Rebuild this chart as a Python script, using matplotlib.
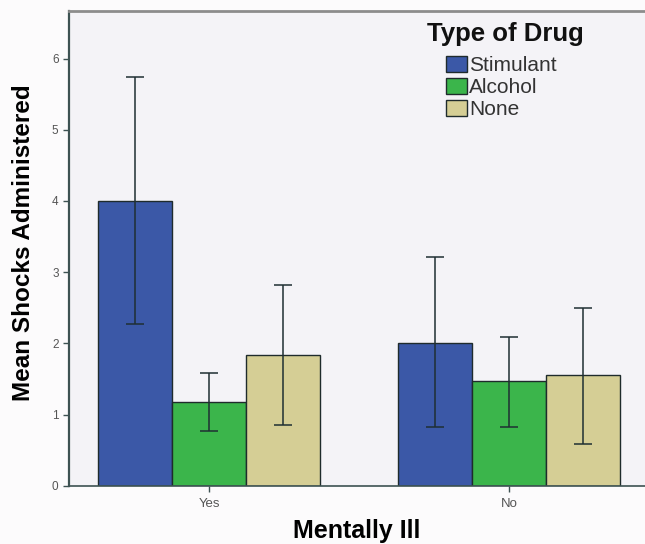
import numpy as np
import matplotlib.pyplot as plt

plt.rcParams['font.family'] = ['Liberation Sans', 'DejaVu Sans']

groups = ['Yes', 'No']
drugs = ['Stimulant', 'Alcohol', 'None']
means = {
    'Stimulant': [4.00, 2.01],
    'Alcohol': [1.18, 1.47],
    'None': [1.84, 1.55],
}
err_low = {
    'Stimulant': [2.27, 0.82],
    'Alcohol': [0.77, 0.82],
    'None': [0.86, 0.59],
}
err_high = {
    'Stimulant': [5.74, 3.21],
    'Alcohol': [1.59, 2.09],
    'None': [2.82, 2.50],
}
colors = {'Stimulant': '#3b58a7', 'Alcohol': '#3bb54b', 'None': '#d5ce95'}

W, H = 645, 544
fig = plt.figure(figsize=(W / 100, H / 100), dpi=100)
fig.patch.set_facecolor('#fcfbfc')
ax = fig.add_axes([0.107, 0.107, 0.893, 0.873])
ax.set_facecolor('#f4f3f7')

x = np.arange(len(groups))
width = 0.247
edge = '#1f2b2c'
for i, d in enumerate(drugs):
    pos = x + (i - 1) * width
    m = np.array(means[d])
    lo = m - np.array(err_low[d])
    hi = np.array(err_high[d]) - m
    ax.bar(pos, m, width=width, color=colors[d], edgecolor=edge,
           linewidth=1.0, label=d, zorder=2)
    ax.errorbar(pos, m, yerr=[lo, hi], fmt='none', ecolor='#1f2f33',
                elinewidth=1.1, capsize=6.5, capthick=1.1, zorder=3)

ax.set_xlim(-0.467, 1.453)
ax.set_ylim(0, 6.67)
ax.set_xticks(x)
ax.set_xticklabels(groups)
ax.set_yticks(range(0, 7))
ax.tick_params(axis='both', labelsize=8.5, labelcolor='#555555',
               color='#3d5252', length=4, width=1)
ax.tick_params(axis='x', labelsize=9.5, pad=5)

ax.spines['right'].set_visible(False)
ax.spines['top'].set_color('#8c8c8c')
ax.spines['top'].set_linewidth(2)
ax.spines['left'].set_color('#3d5252')
ax.spines['left'].set_linewidth(1.6)
ax.spines['bottom'].set_color('#3d5252')
ax.spines['bottom'].set_linewidth(1.2)

ax.set_ylabel('Mean Shocks Administered', fontsize=17.5, fontweight='bold',
              labelpad=12)
ax.yaxis.label.set_y(0.512)
ax.set_xlabel('Mentally Ill', fontsize=18, fontweight='bold', labelpad=6)

# legend: title drawn separately so the entries can be indented under it
fig.text(505 / W, 1 - 34 / H, 'Type of Drug', fontsize=18.5,
         fontweight='bold', ha='center', va='center', color='#111111')
leg = ax.legend(loc='upper left', bbox_to_anchor=(446 / W, 1 - 56 / H),
                bbox_transform=fig.transFigure, frameon=False, fontsize=15,
                handlelength=1.0, handleheight=0.82, handletextpad=0.12,
                labelspacing=0.12, borderpad=0, borderaxespad=0)
for t in leg.get_texts():
    t.set_color('#333333')

fig.savefig('out.png', dpi=100, facecolor=fig.get_facecolor())
